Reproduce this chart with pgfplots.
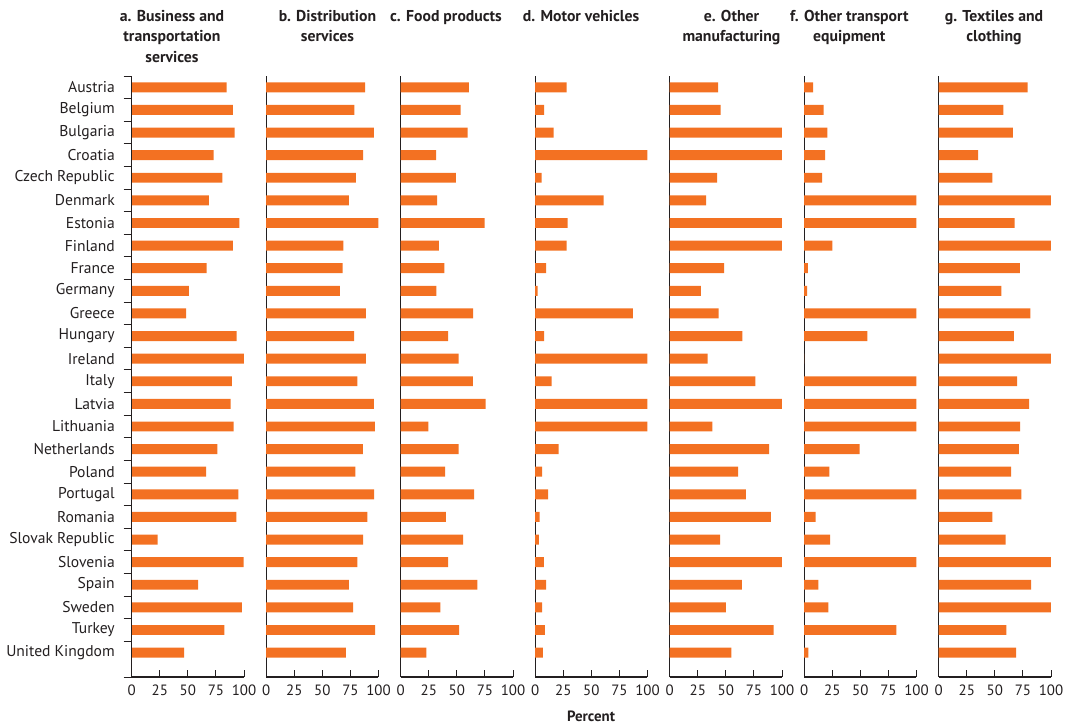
\documentclass[border=0pt]{standalone}
\usepackage{pgfplots}
\pgfplotsset{compat=1.18}
\usepackage{pgfplotstable}
\usepackage{fontspec}
\setmainfont{PT Sans}

\definecolor{barorange}{RGB}{243,113,34}
\definecolor{inkgray}{RGB}{35,31,32}

% Share of exports by sector (percent); pos 25 = Austria ... pos 0 = United Kingdom
\pgfplotstableread{
pos  a     b     c     d     e     f     g
25   84.6  88.1  60.7  28.0  43.2  8.0   79.1
24   90.2  78.6  53.3  8.0   45.3  17.2  57.5
23   91.7  95.8  59.5  16.4  100   20.7  66.1
22   73.0  86.4  31.5  100   100   18.6  35.1
21   80.7  79.8  49.1  5.7   42.3  16.0  47.8
20   68.8  73.6  32.4  61.0  32.5  100   100
19   95.8  100   74.7  28.9  100   100   67.6
18   90.2  68.8  33.9  28.0  100   25.1  100
17   66.8  68.0  39.0  9.8   48.5  3.3   72.3
16   51.0  65.6  31.8  2.1   27.8  2.7   55.8
15   48.4  88.7  64.6  86.9  43.5  100   81.7
14   93.5  78.3  42.3  8.0   64.8  56.2  67.0
13   100   88.7  51.5  100   33.7  0     100
12   89.3  81.3  64.3  14.6  76.3  100   69.9
11   88.1  95.8  75.6  100   100   100   80.5
10   90.8  96.7  24.7  100   37.9  100   72.6
9    76.3  86.1  51.5  20.8  88.5  49.4  71.4
8    66.2  79.5  39.6  6.2   60.9  22.5  64.6
7    95.0  96.1  65.5  11.6  67.8  100   73.7
6    93.2  90.2  40.2  3.9   90.2  10.1  47.8
5    23.1  86.4  55.7  3.3   45.0  23.1  59.6
4    99.7  81.3  42.3  7.7   100   100   100
3    59.1  73.6  68.2  9.8   64.2  12.7  82.3
2    98.2  77.4  35.4  6.2   50.0  21.6  100
1    82.5  97.0  52.1  8.6   92.6  82.2  60.2
0    46.6  70.9  22.9  6.8   55.0  3.6   69.0
}\sharedata

\pgfplotsset{
  panel/.style={
    scale only axis, width=84.2pt, height=450.75pt,
    anchor=north west,
    xmin=0, xmax=100, ymin=-1.08, ymax=25.5,
    axis x line*=bottom, axis y line*=left,
    axis line style={inkgray, line width=0.8pt, -},
    xtick={0,25,50,75,100},
    tick align=inside, major tick length=5pt,
    tick style={inkgray, line width=0.7pt},
    ytick=\empty,
    xticklabel style={font=\fontsize{11.2}{13}\selectfont, text=inkgray,
      anchor=north, inner sep=0pt, yshift=-6pt},
    /pgf/number format/assume math mode=true,
  },
  bars/.style={xbar, fill=barorange, draw=none, bar width=0.44},
}

\newcommand{\paneltitle}[3]{% x (pt), line number, text
  \node[anchor=base, inner sep=0pt, font=\fontsize{11.8}{13}\selectfont\bfseries, text=inkgray]
    at (#1pt,{-(21.5+20.3*(#2-1))*0.75pt}) {#3};}

\begin{document}
\begin{tikzpicture}
\useasboundingbox (0,0) rectangle (802.5pt,-544.5pt);

% a. Business and transportation services (with country labels)
\begin{axis}[panel, at={(98.775pt,-57pt)},
  ytick={0,...,25}, ytick style={draw=none},
  yticklabels={United Kingdom,Turkey,Sweden,Spain,Slovenia,Slovak Republic,Romania,Portugal,Poland,Netherlands,Lithuania,Latvia,Italy,Ireland,Hungary,Greece,Germany,France,Finland,Estonia,Denmark,Czech Republic,Croatia,Bulgaria,Belgium,Austria},
  yticklabel style={font=\fontsize{11.7}{13}\selectfont, text=inkgray, anchor=east, inner sep=0pt, xshift=-12.5pt}]
  \addplot[bars] table[x=a, y=pos] {\sharedata};
\end{axis}
% category boundary ticks on the left of the first panel
\begin{axis}[panel, at={(98.775pt,-57pt)}, hide x axis,
  ytick={-1.08,0.5,1.5,...,25.5}, yticklabels={}, tick align=outside, major tick length=6pt]
  \addplot[draw=none] coordinates {(0,0)};
\end{axis}

\begin{axis}[panel, at={(199.65pt,-57pt)}]
  \addplot[bars] table[x=b, y=pos] {\sharedata};
\end{axis}
\begin{axis}[panel, at={(300.525pt,-57pt)}]
  \addplot[bars] table[x=c, y=pos] {\sharedata};
\end{axis}
\begin{axis}[panel, at={(401.4pt,-57pt)}]
  \addplot[bars] table[x=d, y=pos] {\sharedata};
\end{axis}
\begin{axis}[panel, at={(502.275pt,-57pt)}]
  \addplot[bars] table[x=e, y=pos] {\sharedata};
\end{axis}
\begin{axis}[panel, at={(603.15pt,-57pt)}]
  \addplot[bars] table[x=f, y=pos] {\sharedata};
\end{axis}
\begin{axis}[panel, at={(704.025pt,-57pt)}]
  \addplot[bars] table[x=g, y=pos] {\sharedata};
\end{axis}

% panel titles
\paneltitle{129}{1}{a. Business and}
\paneltitle{129}{2}{transportation}
\paneltitle{129}{3}{services}
\paneltitle{245.6}{1}{b. Distribution}
\paneltitle{245.6}{2}{services}
\paneltitle{334.5}{1}{c. Food products}
\paneltitle{435.8}{1}{d. Motor vehicles}
\paneltitle{548.6}{1}{e. Other}
\paneltitle{548.6}{2}{manufacturing}
\paneltitle{637}{1}{f. Other transport}
\paneltitle{637}{2}{equipment}
\paneltitle{745.5}{1}{g. Textiles and}
\paneltitle{745.5}{2}{clothing}

% common x-axis title
\node[anchor=base, inner sep=0pt, font=\fontsize{11.2}{13}\selectfont\bfseries, text=inkgray]
  at (443.25pt,-541pt) {Percent};
\end{tikzpicture}
\end{document}
